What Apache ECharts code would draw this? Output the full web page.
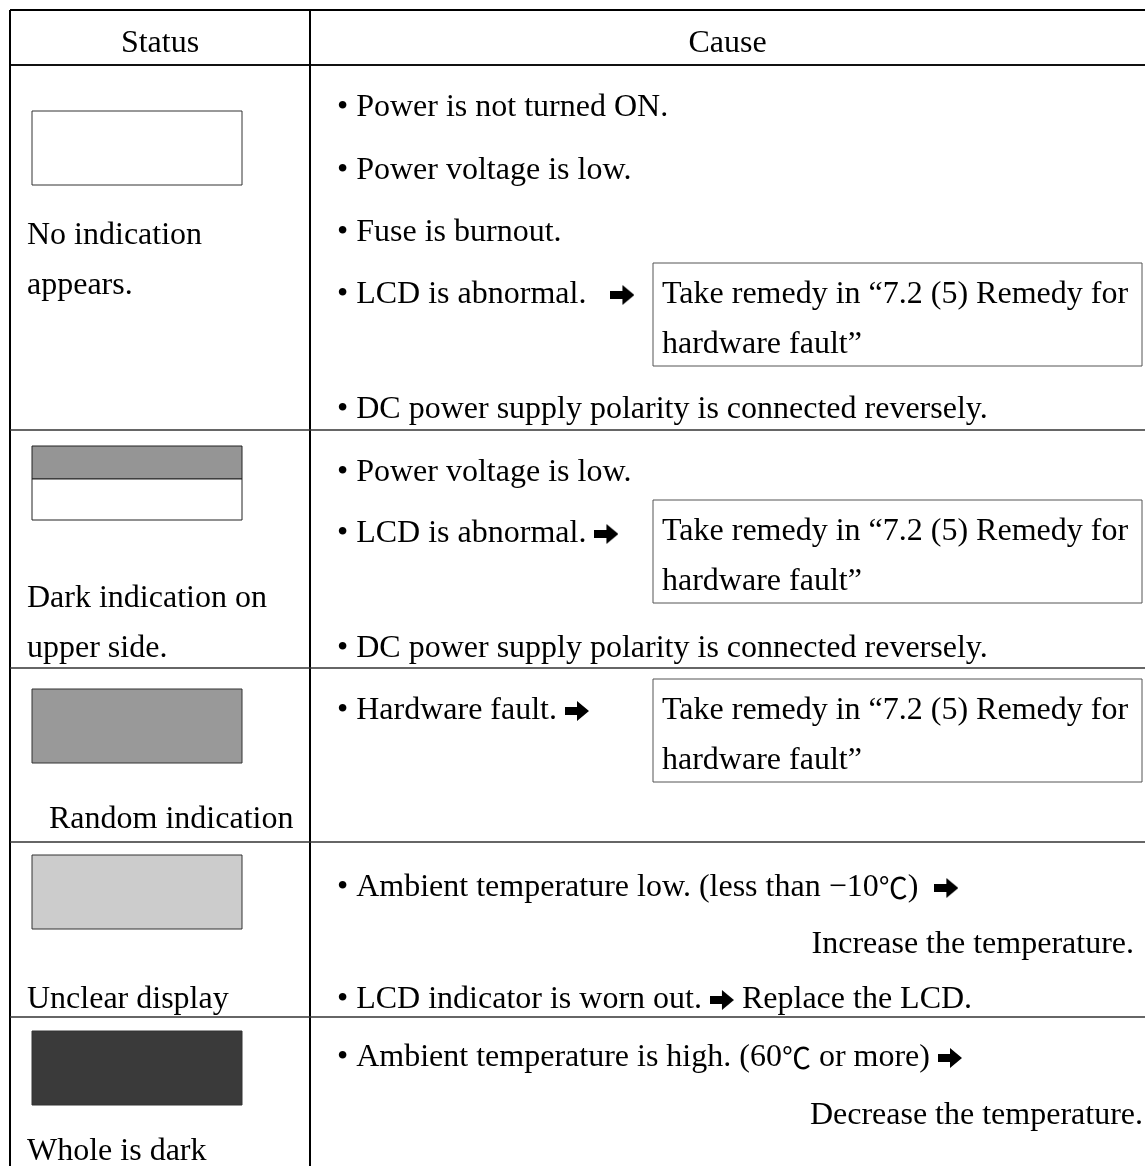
<!DOCTYPE html>
<html>
<head>
<meta charset="utf-8">
<title>LCD status table</title>
<script src="https://cdn.jsdelivr.net/npm/echarts@6/dist/echarts.min.js"></script>
<style>
  html, body { margin: 0; padding: 0; background: #fff; }
  #main { width: 1145px; height: 1166px; }
</style>
</head>
<body>
<div id="main"></div>
<script>
  // table content
  const headers = ['Status', 'Cause'];
  const statusLabels = [
    ['No indication', 'appears.'],
    ['Dark indication on', 'upper side.'],
    ['Random indication'],
    ['Unclear display'],
    ['Whole is dark']
  ];
  // shade of the LCD picture in each row (top band first)
  const displayShades = [['#ffffff'], ['#959595', '#ffffff'], ['#999999'], ['#cccccc'], ['#3a3a3a']];
  const causeLines = [
    ['• Power is not turned ON.', '• Power voltage is low.', '• Fuse is burnout.', '• LCD is abnormal.   {arr| }', '• DC power supply polarity is connected reversely.'],
    ['• Power voltage is low.', '• LCD is abnormal. {arr| }', '• DC power supply polarity is connected reversely.'],
    ['• Hardware fault. {arr| }'],
    ['• Ambient temperature low. (less than −10{deg|℃})  {arr| }', 'Increase the temperature.', '• LCD indicator is worn out. {arr| } Replace the LCD.'],
    ['• Ambient temperature is high. (60{deg|℃} or more) {arr| }', 'Decrease the temperature.']
  ];
  const remedyLines = ['Take remedy in “7.2 (5) Remedy for', 'hardware fault”'];
  const remedyRows = [0, 1, 2];

  // layout
  const FONT = 'Liberation Serif, Times New Roman, serif';
  const FS = 32;
  const TEXT_DY = 4;
  const tblLeft = 10, divider = 310, tblRight = 1160, tblTop = 10, headBottom = 65;
  const rowEdges = [65, 430, 668, 842, 1017, 1200];
  const statusX = [27, 27, 49, 27, 27];
  const statusY = [[232, 282], [595, 645], [816], [996], [1148]];
  const causeY = [[104, 167, 229, 291, 406], [469, 530, 645], [707], [884, 941, 996], [1054, 1112]];
  const causeX = 337;
  const causeRightX = [1143, 1143, 1143, 1134, 1143];
  const swatch = { x: 32, w: 210, h: 74, tops: [111, 446, 689, 855, 1031], band: 33 };
  const remedyBox = { x: 653, w: 489, h: 103, tops: [263, 500, 679], lineOff: [28, 78] };

  // fat right arrow used inline in the text
  const arrowImg = document.createElement('canvas');
  arrowImg.width = 24; arrowImg.height = 20;
  (function () {
    const c = arrowImg.getContext('2d');
    c.fillStyle = '#000';
    c.beginPath();
    c.moveTo(0, 6); c.lineTo(12, 6); c.lineTo(12, 0); c.lineTo(24, 10);
    c.lineTo(12, 20); c.lineTo(12, 14); c.lineTo(0, 14);
    c.closePath(); c.fill();
  })();

  const chart = echarts.init(document.getElementById('main'));
  const els = [];
  const rich = {
    arr: { width: 24, height: 20, fontSize: 20, backgroundColor: { image: arrowImg }, verticalAlign: 'middle' },
    deg: { fontFamily: 'Noto Sans CJK JP', fontSize: 29, fill: '#000' }
  };

  function text(x, y, str, align) {
    els.push({
      type: 'text', x: x, y: y + TEXT_DY,
      style: {
        text: str, fill: '#000', fontFamily: FONT, fontSize: FS,
        textAlign: align || 'left', textVerticalAlign: 'middle', rich: rich
      }
    });
  }
  function line(x1, y1, x2, y2, w, c) {
    els.push({ type: 'line', shape: { x1: x1, y1: y1, x2: x2, y2: y2 }, style: { stroke: c, lineWidth: w } });
  }

  // grid lines
  line(tblLeft, tblTop, tblRight, tblTop, 2, '#000');
  line(tblLeft, headBottom, tblRight, headBottom, 2, '#111');
  line(tblLeft, tblTop, tblLeft, 1200, 2, '#000');
  line(divider, tblTop, divider, 1200, 2, '#000');
  for (let i = 1; i < rowEdges.length - 1; i++) {
    line(tblLeft, rowEdges[i], tblRight, rowEdges[i], 1.5, '#333');
  }

  text((tblLeft + divider) / 2, 40, headers[0], 'center');
  text((divider + 1145) / 2, 40, headers[1], 'center');

  statusLabels.forEach(function (labels, r) {
    // LCD picture
    const shades = displayShades[r];
    const y0 = swatch.tops[r];
    if (shades.length === 2) {
      els.push({ type: 'rect', shape: { x: swatch.x, y: y0, width: swatch.w, height: swatch.band }, style: { fill: shades[0], stroke: '#222', lineWidth: 1 } });
      els.push({ type: 'rect', shape: { x: swatch.x, y: y0 + swatch.band, width: swatch.w, height: swatch.h - swatch.band }, style: { fill: shades[1], stroke: '#222', lineWidth: 1 } });
    } else {
      els.push({ type: 'rect', shape: { x: swatch.x, y: y0, width: swatch.w, height: swatch.h }, style: { fill: shades[0], stroke: '#333', lineWidth: 1 } });
    }
    labels.forEach(function (s, k) { text(statusX[r], statusY[r][k], s); });

    causeLines[r].forEach(function (s, k) {
      if (s.charAt(0) === '•') text(causeX, causeY[r][k], s);
      else text(causeRightX[r], causeY[r][k], s, 'right');
    });
  });

  remedyRows.forEach(function (r, i) {
    const y0 = remedyBox.tops[i];
    els.push({ type: 'rect', shape: { x: remedyBox.x, y: y0, width: remedyBox.w, height: remedyBox.h }, style: { fill: 'none', stroke: '#555', lineWidth: 1 } });
    remedyLines.forEach(function (s, k) { text(remedyBox.x + 9, y0 + remedyBox.lineOff[k], s); });
  });

  chart.setOption({
    backgroundColor: '#fff',
    animation: false,
    graphic: { elements: els }
  });
</script>
</body>
</html>
